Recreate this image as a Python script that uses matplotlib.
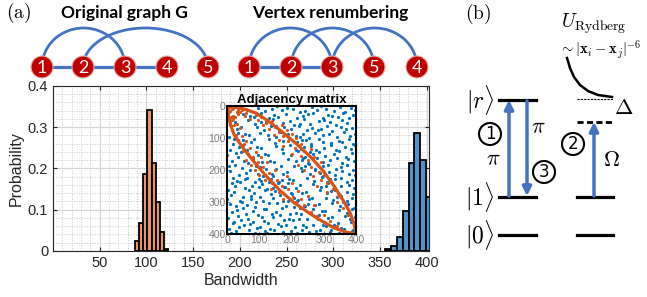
import numpy as np
import matplotlib
matplotlib.use('Agg')
import matplotlib.pyplot as plt
from matplotlib.patches import Circle, Arc
from matplotlib.ticker import MultipleLocator

# ---- data ----
# bandwidth histograms (bin edges + probability per bin)
orange_edges = [87.5, 92, 96.5, 101, 105.5, 110, 114.5, 119, 123.5]
orange_prob = [0.025, 0.069, 0.186, 0.341, 0.213, 0.119, 0.046, 0.004]
blue_edges = [355, 361.4, 367.8, 374.2, 380.6, 387, 393.4, 399.8, 406.2]
blue_prob = [0.005, 0.012, 0.035, 0.098, 0.214, 0.285, 0.22, 0.13]

x_ticks = [50, 100, 150, 200, 250, 300, 350, 400]
y_ticks = [0, 0.1, 0.2, 0.3, 0.4]
y_ticklabels = ['0', '0.1', '0.2', '0.3', '0.4']
inset_ticks = [0, 100, 200, 300, 400]

# adjacency matrix (upper triangle, row/col), mirrored when drawn
blue_pairs = [
    (3, 41), (11, 62), (6, 97), (17, 118), (1, 154), (14, 171), (8, 203), (19, 226), (4, 262), (12, 279),
    (9, 307), (16, 331), (2, 349), (18, 366), (7, 384), (13, 397), (5, 187), (15, 241), (10, 138), (0, 290),
    (26, 49), (33, 83), (21, 104), (38, 129), (29, 147), (24, 183), (36, 216), (31, 234), (22, 268), (39, 296),
    (27, 312), (34, 343), (23, 361), (37, 379), (28, 392), (35, 158), (25, 251), (30, 71), (32, 324),
    (44, 66), (57, 88), (49, 121), (42, 143), (53, 172), (46, 194), (58, 209), (41, 239), (55, 257), (48, 284),
    (51, 318), (59, 337), (43, 356), (54, 373), (47, 399), (56, 227), (45, 301), (50, 106),
    (67, 92), (74, 114), (61, 137), (78, 161), (65, 178), (71, 199), (63, 224), (76, 249), (69, 263), (73, 291),
    (62, 309), (79, 327), (66, 352), (72, 368), (68, 388), (75, 281), (64, 151),
    (84, 103), (92, 127), (97, 153), (81, 166), (89, 188), (95, 213), (86, 236), (99, 254), (83, 272), (91, 299),
    (87, 317), (96, 341), (82, 363), (94, 382), (88, 396), (98, 227),
    (104, 131), (117, 149), (109, 174), (101, 192), (113, 218), (106, 233), (119, 261), (103, 284), (111, 297),
    (116, 322), (108, 347), (114, 358), (102, 377), (118, 391), (107, 244),
    (126, 152), (133, 171), (121, 196), (138, 214), (129, 238), (124, 259), (136, 276), (131, 302), (122, 321),
    (139, 339), (127, 366), (134, 384), (123, 398), (135, 229),
    (146, 174), (153, 198), (141, 219), (158, 241), (149, 267), (144, 286), (156, 304), (151, 331), (142, 348),
    (159, 369), (147, 387), (154, 399), (143, 257),
    (167, 189), (172, 213), (161, 236), (178, 252), (164, 279), (175, 298), (169, 318), (163, 341), (177, 357),
    (166, 376), (173, 394), (170, 231),
    (186, 207), (193, 228), (181, 253), (198, 272), (189, 296), (184, 314), (196, 337), (191, 354), (183, 373),
    (199, 391), (188, 241),
    (204, 231), (213, 256), (201, 274), (218, 297), (207, 316), (215, 334), (203, 356), (211, 377), (217, 396),
    (209, 289),
    (226, 248), (233, 271), (221, 293), (238, 311), (229, 336), (224, 354), (236, 372), (231, 389), (227, 319),
    (244, 268), (253, 291), (241, 314), (258, 333), (249, 352), (246, 377), (255, 394), (251, 306),
    (264, 287), (273, 309), (261, 334), (278, 351), (268, 373), (275, 391), (266, 322),
    (286, 307), (293, 329), (281, 353), (298, 371), (289, 388), (284, 342),
    (304, 327), (313, 349), (307, 374), (318, 393), (301, 361),
    (326, 348), (333, 371), (321, 387), (337, 399),
    (344, 366), (352, 381), (347, 396),
    (364, 383), (373, 397),
    (386, 392),
]
orange_pairs = [
    (5, 20), (12, 35), (8, 48), (18, 30), (22, 60), (15, 75), (30, 55), (28, 90), (40, 70), (35, 105),
    (45, 95), (52, 120), (48, 140), (60, 110), (65, 150), (58, 170), (72, 130), (80, 160), (75, 185), (90, 145),
    (88, 200), (95, 175), (105, 160), (100, 215), (110, 190), (118, 230), (125, 175), (130, 210), (140, 240),
    (135, 260), (150, 200), (155, 230), (160, 270), (170, 250), (175, 290), (185, 220), (190, 260), (200, 240),
    (205, 285), (215, 300), (220, 265), (230, 290), (240, 310), (250, 280), (260, 330), (270, 310), (280, 345),
    (300, 340), (320, 360), (340, 375), (2, 10), (4, 28), (10, 15), (14, 45), (20, 40), (25, 33), (9, 60),
]
# outer edge of the renumbered band (row, col)
band_rows = [0, 3, 10, 22, 45, 80, 118, 160, 205, 255, 295, 330, 365, 400]
band_cols = [0, 25, 55, 90, 125, 170, 215, 260, 300, 335, 360, 380, 393, 400]

# small graphs
orig_labels = ['1', '2', '3', '4', '5']
orig_lines = [(0, 1), (1, 2), (2, 3)]
orig_arcs = [(0, 2), (1, 4)]
renum_labels = ['1', '2', '3', '5', '4']
renum_lines = [(0, 1), (1, 2)]
renum_arcs = [(0, 2), (1, 3), (2, 4)]

plt.rcParams['mathtext.fontset'] = 'cm'
plt.rcParams['font.family'] = ['Liberation Sans', 'DejaVu Sans']

fig = plt.figure(figsize=(6.47, 2.97), dpi=100)

# ---- histogram ----
ax = fig.add_axes([0.0819, 0.1549, 0.5811, 0.5556])
ax.bar(orange_edges[:-1], orange_prob, width=np.diff(orange_edges), align='edge',
       color='#e8956c', edgecolor='black', lw=1.3, zorder=3)
ax.bar(blue_edges[:-1], blue_prob, width=np.diff(blue_edges), align='edge',
       color='#4f93c8', edgecolor='black', lw=1.3, zorder=3)
ax.set_xlim(0, 402.5)
ax.set_ylim(0, 0.4)
ax.set_xticks(x_ticks)
ax.set_yticks(y_ticks)
ax.set_yticklabels(y_ticklabels)
ax.xaxis.set_minor_locator(MultipleLocator(10))
ax.yaxis.set_minor_locator(MultipleLocator(0.02))
ax.grid(which='major', color='#d4d4d4', lw=0.9)
ax.grid(which='minor', color='#c8c8c8', ls=':', lw=0.7)
ax.set_axisbelow(True)
ax.tick_params(which='major', direction='in', top=True, right=True, length=3,
               labelsize=10.5, colors='#262626')
ax.tick_params(which='minor', length=0)
for s in ax.spines.values():
    s.set_color('#262626')
ax.set_xlabel('Bandwidth', fontsize=11.5, color='#262626', labelpad=2)
ax.set_ylabel('Probability', fontsize=11.5, color='#262626', labelpad=3)

# ---- adjacency inset ----
axi = fig.add_axes([0.3509, 0.2121, 0.1994, 0.4310])
br = np.array([p[0] for p in blue_pairs])
bc = np.array([p[1] for p in blue_pairs])
axi.plot(np.r_[bc, br], np.r_[br, bc], 'o', ms=2.3, mew=0, color='#0072BD')
orr = np.array([p[0] for p in orange_pairs])
oc = np.array([p[1] for p in orange_pairs])
axi.plot(np.r_[oc, orr], np.r_[orr, oc], 'o', ms=2.3, mew=0, color='#D95319')
axi.plot(band_cols, band_rows, color='#D95319', lw=2.3)
axi.plot(band_rows, band_cols, color='#D95319', lw=2.3)
axi.set_xlim(0, 400)
axi.set_ylim(400, 0)
axi.set_xticks(inset_ticks)
axi.set_yticks(inset_ticks)
axi.tick_params(direction='in', length=2, pad=1, labelsize=7.5,
                colors='#888888', labelcolor='#808080')
for s in axi.spines.values():
    s.set_linewidth(1.5)
axi.set_title('Adjacency matrix', fontsize=9.5, fontweight='bold', pad=2)

# ---- overlay for the drawings ----
ov = fig.add_axes([0, 0, 1, 1])
ov.set_xlim(0, 647)
ov.set_ylim(297, 0)
ov.axis('off')

edge_col = '#4472C4'
node_y = 67


def draw_graph(xs, labels, lines, arcs, title, tx):
    for i, j in lines:
        ov.plot([xs[i], xs[j]], [node_y, node_y], color=edge_col, lw=2.3, zorder=2)
    for i, j in arcs:
        ov.add_patch(Arc(((xs[i] + xs[j]) / 2, node_y), xs[j] - xs[i], 78,
                         theta1=180, theta2=360, color=edge_col, lw=2, zorder=2))
    for x, lab in zip(xs, labels):
        ov.add_patch(Circle((x, node_y), 11, fc='#c00000', ec='#e8b0b0', lw=0.8, zorder=5))
        ov.text(x, node_y + 1, lab, color='white', fontsize=13, family='Lato',
                ha='center', va='center', zorder=6)
    ov.text(tx, 13, title, fontsize=12.5, family='Lato', fontweight='bold',
            ha='center', va='center')


draw_graph([42, 83, 125, 167, 208], orig_labels, orig_lines, orig_arcs, 'Original graph G', 124)
draw_graph([249, 291, 332, 374, 417], renum_labels, renum_lines, renum_arcs, 'Vertex renumbering', 330)

ov.text(19, 13, r'$\mathrm{(a)}$', fontsize=14, ha='center', va='center')
ov.text(478, 14, r'$\mathrm{(b)}$', fontsize=14, ha='center', va='center')

# ---- (b) level scheme ----
for y in [100, 197, 235]:
    ov.plot([499, 536], [y, y], color='black', lw=2.3)
for y in [197, 235]:
    ov.plot([577, 613], [y, y], color='black', lw=2.3)
ov.plot([577, 613], [122, 122], color='black', lw=2, ls=(0, (2.2, 1.2)))
ov.plot([577, 613], [99, 99], color='black', lw=0.8, ls=(0, (2, 1)))
ov.plot([567, 570, 574, 580, 588, 598, 612], [58, 68, 77, 85, 91, 95, 97], color='black', lw=1.8)

ov.text(480, 100, r'$|r\rangle$', fontsize=17, ha='center', va='center')
ov.text(480, 197, r'$|1\rangle$', fontsize=17, ha='center', va='center')
ov.text(480, 235, r'$|0\rangle$', fontsize=17, ha='center', va='center')

arr = dict(arrowstyle='-|>', color=edge_col, lw=2.5, mutation_scale=13, shrinkA=0, shrinkB=0)
ov.annotate('', xy=(509, 100), xytext=(509, 196), arrowprops=arr)
ov.annotate('', xy=(527, 196), xytext=(527, 101), arrowprops=arr)
ov.annotate('', xy=(594, 122), xytext=(594, 196), arrowprops=arr)

circ = dict(boxstyle='circle,pad=0.12', fc='none', ec='black', lw=1.5)
ov.text(490, 134, '1', fontsize=12, ha='center', va='center', bbox=circ, family='DejaVu Sans')
ov.text(544, 172, '3', fontsize=12, ha='center', va='center', bbox=circ, family='DejaVu Sans')
ov.text(573, 144, '2', fontsize=12, ha='center', va='center', bbox=circ, family='DejaVu Sans')

ov.text(493, 160, r'$\pi$', fontsize=16, ha='center', va='center')
ov.text(538, 128, r'$\pi$', fontsize=16, ha='center', va='center')
ov.text(612, 160, r'$\Omega$', fontsize=16, ha='center', va='center')
ov.text(624, 108, r'$\Delta$', fontsize=16, ha='center', va='center')
ov.text(594, 24, r'$U_{\mathrm{Rydberg}}$', fontsize=14, ha='center', va='center')
ov.text(600, 50, r'$\sim|\mathbf{x}_i-\mathbf{x}_j|^{-6}$', fontsize=10.5, ha='center', va='center')

fig.savefig('out.png', dpi=100)
